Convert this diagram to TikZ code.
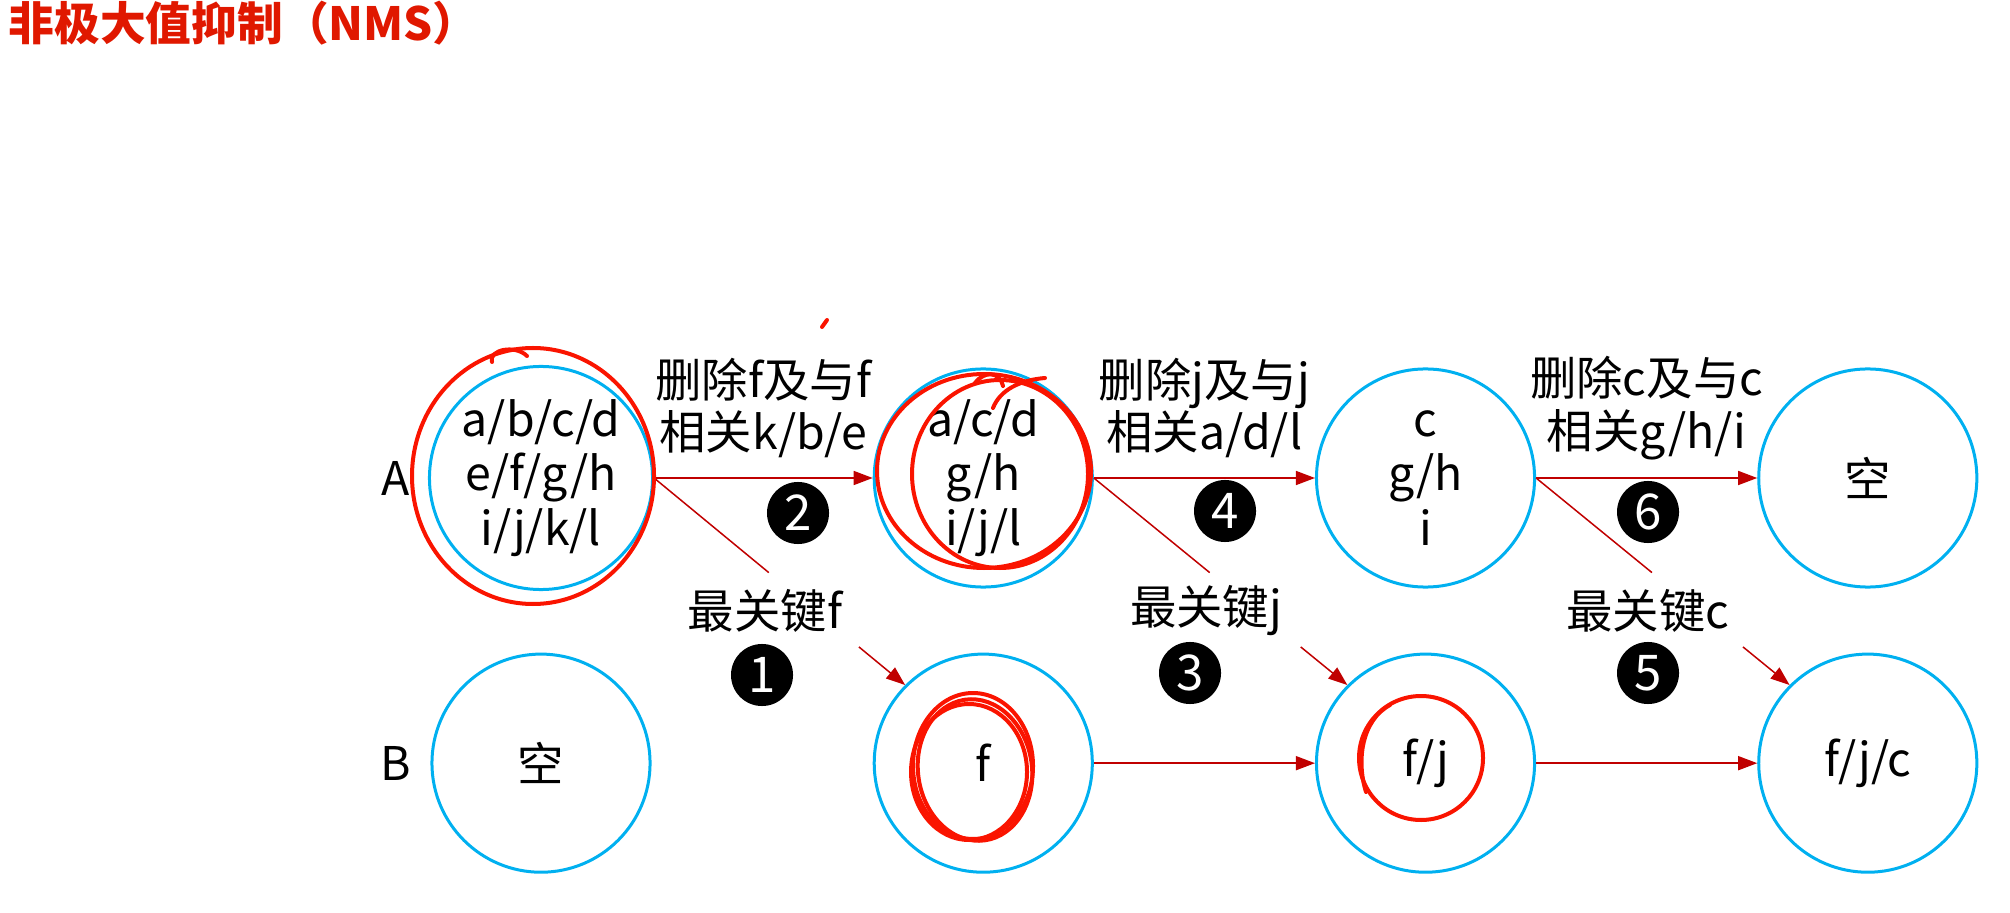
\documentclass[tikz,border=0pt]{standalone}
\usepackage{fontspec}
\setmainfont{Noto Sans CJK SC}
\newfontfamily\titlefont{Noto Sans CJK SC Black}
\usetikzlibrary{arrows.meta,positioning}
\definecolor{set-blue}{RGB}{0,176,240}
\definecolor{link-red}{RGB}{192,0,0}
\definecolor{pen-red}{RGB}{250,20,0}
\definecolor{title-red}{RGB}{224,24,0}

\begin{document}
\begin{tikzpicture}
    [x=0.01cm, y=-0.01cm,
    node distance=4.42cm,
    on grid,
    set node/.style = {shape=circle, draw=set-blue, line width=0.03cm, minimum size=2.18cm,
      inner sep=0pt, align=center, font=\fontsize{13.2}{15.4}\selectfont},
    row name/.style = {font=\fontsize{13.2}{15.4}\selectfont},
    step label/.style = {align=center, inner sep=0pt, font=\fontsize{13.2}{15}\selectfont},
    step num/.style = {shape=circle, fill=black, text=white, minimum size=0.62cm, inner sep=0pt,
      font=\fontsize{14}{14}\selectfont},
    post/.style={-{Triangle[length=0.19cm,width=0.14cm]}, draw=link-red, line width=0.015cm},
    link/.style={draw=link-red, line width=0.015cm},
    scribble/.style={draw=pen-red, line width=0.04cm, line cap=round}]

    \useasboundingbox (0,0) rectangle (2010,913);

    \node [anchor=west, inner sep=0pt, text=title-red, font=\fontsize{13}{13}\titlefont] (title) at (8,23)
      {非极大值抑制（NMS）};

    % row A: the boxes still to be checked
    \node [set node] (A1) at (541,478) {a/b/c/d\\e/f/g/h\\i/j/k/l};
    \node [set node] (A2) [right=of A1] {a/c/d\\g/h\\i/j/l};
    \node [set node] (A3) [right=of A2] {c\\g/h\\i};
    \node [set node] (A4) [right=of A3] {空};
    \node [row name] (nameA) [left=1.45cm of A1] {A};

    % row B: the boxes that are kept
    \node [set node] (B1) [below=2.85cm of A1] {空};
    \node [set node] (B2) [right=of B1] {f};
    \node [set node] (B3) [right=of B2] {f/j};
    \node [set node] (B4) [right=of B3] {f/j/c};
    \node [row name] (nameB) [left=1.45cm of B1] {B};

    \draw [post] (A1) -- node [step label, yshift=0.7cm] {删除f及与f\\相关k/b/e} (A2);
    \draw [post] (A2) -- node [step label, yshift=0.7cm] {删除j及与j\\相关a/d/l} (A3);
    \draw [post] (A3) -- node [step label, yshift=0.7cm] {删除c及与c\\相关g/h/i} (A4);
    \draw [post] (B2) -- (B3);
    \draw [post] (B3) -- (B4);

    \path (A1.east) -- (B2.north west) coordinate [pos=0.457] (cut1) coordinate [pos=0.816] (tip1);
    \path (A2.east) -- (B3.north west) coordinate [pos=0.457] (cut2) coordinate [pos=0.816] (tip2);
    \path (A3.east) -- (B4.north west) coordinate [pos=0.457] (cut3) coordinate [pos=0.816] (tip3);
    \draw [link] (A1.east) -- (cut1);
    \draw [post] (tip1) -- (B2.north west);
    \draw [link] (A2.east) -- (cut2);
    \draw [post] (tip2) -- (B3.north west);
    \draw [link] (A3.east) -- (cut3);
    \draw [post] (tip3) -- (B4.north west);

    \node [step label] (key1) at (765,611) {最关键f};
    \node [step label] (key2) at (1206,611) {最关键j};
    \node [step label] (key3) at (1648,611) {最关键c};

    \node [step num] (num1) at (762,675) {1};
    \node [step num] (num2) at (798,513) {2};
    \node [step num] (num3) at (1190,673) {3};
    \node [step num] (num4) at (1225,511) {4};
    \node [step num] (num5) at (1648,673) {5};
    \node [step num] (num6) at (1648,512) {6};

    % red pen marks
    \draw [scribble] (533,476) ellipse [x radius=121, y radius=128];
    \draw [scribble] (492,362) .. controls (488,350) and (515,344) .. (527,356);
    \draw [scribble] (984,471) ellipse [x radius=107, y radius=97];
    \draw [scribble] (1000,474) ellipse [x radius=88, y radius=94];
    \draw [scribble] (975,383) .. controls (985,370) and (1000,372) .. (1003,386);
    \draw [scribble] (993,408) .. controls (1000,390) and (1020,380) .. (1045,378);
    \draw [scribble] (973,766) ellipse [x radius=60, y radius=73];
    \draw [scribble, rotate around={8:(975,770)}] (975,770) ellipse [x radius=57, y radius=71];
    \draw [scribble] (969,772) ellipse [x radius=58, y radius=68];
    \draw [scribble] (1421,758) ellipse [x radius=62, y radius=62];
    \draw [scribble] (1366,792) .. controls (1356,760) and (1362,720) .. (1390,705);
    \draw [scribble] (822,327) -- (827,320);
\end{tikzpicture}
\end{document}
